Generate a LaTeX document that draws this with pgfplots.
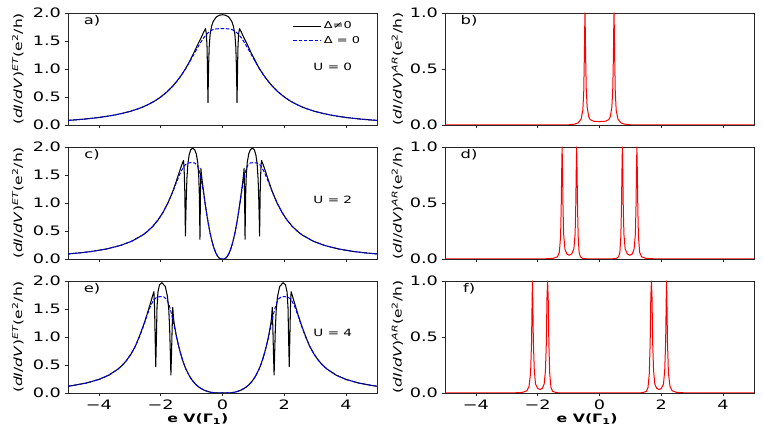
\documentclass[border=0pt]{standalone}
\usepackage{fontspec}
\setmainfont{DejaVu Sans}[FakeStretch=1.36]
\usepackage{pgfplots}
\pgfplotsset{compat=1.18}
\pgfplotsset{
  common/.style={
    scale only axis, width=309pt, height=112pt,
    xmin=-5, xmax=5, xtick={-4,-2,0,2,4},
    tick pos=left, tick align=outside, major tick length=3.5pt,
    tick style={black!85, line width=0.8pt},
    axis line style={black!85, line width=0.8pt},
    tick label style={font=\fontsize{13}{15}\selectfont},
    clip=true,
  },
  leftp/.style={common, ymin=0, ymax=2, ytick={0,0.5,1,1.5,2}, yticklabels={0.0,0.5,1.0,1.5,2.0},
    ylabel={(\textit{dI}/\textit{dV})\textsuperscript{\textit{ET}}(e\textsuperscript{2}/h)},
    ylabel style={at={(axis description cs:-0.162,0.5)}, anchor=center, font=\fontsize{11.4}{13}\selectfont}},
  rightp/.style={common, ymin=0, ymax=1, ytick={0,0.5,1}, yticklabels={0.0,0.5,1.0},
    ylabel={(\textit{dI}/\textit{dV})\textsuperscript{\textit{AR}}(e\textsuperscript{2}/h)},
    ylabel style={at={(axis description cs:-0.154,0.5)}, anchor=center, font=\fontsize{11.4}{13}\selectfont}},
  nox/.style={xticklabels={,,,,}},
  botx/.style={xticklabels={−4,−2,0,2,4}, xlabel={\bfseries e V(Γ\textsubscript{1})},
    xlabel style={at={(axis description cs:#1,-0.232)}, anchor=center, font=\fontsize{11.6}{13}\selectfont}},
  blk/.style={black, line width=1.05pt, line join=round},
  blu/.style={blue, line width=1pt, dash pattern=on 3.5pt off 1.8pt},
  rd/.style={red, line width=1pt, line join=round},
}
\newcommand{\ulab}[2]{\node[font=\fontsize{10}{12}\selectfont] at (axis cs:3.57,#1) {#2};}
\newcommand{\plab}[1]{\node[font=\fontsize{12}{14}\selectfont] at (axis description cs:0.078,0.935) {#1};}
\begin{document}
\begin{tikzpicture}
\path[use as bounding box] (0,0) rectangle (763pt,436pt);
% ---------- a)
\begin{axis}[leftp, nox, at={(68pt,311pt)}, anchor=south west,
  legend image code/.code={\draw[#1] (0pt,0pt) -- (28pt,0pt);},
  legend style={at={(axis description cs:0.727,0.94)}, anchor=north west, draw=none, fill=none,
    font=\fontsize{9.5}{11}\selectfont, row sep=2pt, inner sep=0pt},
  legend cell align=left]
\addplot[blk] coordinates {(-5,0.0822) (-4.8,0.0902) (-4.6,0.0993) (-4.4,0.1095) (-4.2,0.1212) (-4,0.1346) (-3.75,0.1543) (-3.5,0.1779) (-3.25,0.2066) (-3,0.2418) (-2.8,0.2759) (-2.6,0.3168) (-2.4,0.3662) (-2.2,0.4262) (-2,0.4996) (-1.8,0.59) (-1.6,0.7012) (-1.5,0.766) (-1.4,0.8375) (-1.3,0.9159) (-1.2,1.0012) (-1.1,1.10) (-1,1.21) (-0.9,1.32) (-0.8,1.44) (-0.7,1.55) (-0.6,1.67) (-0.55,1.72) (-0.52,1.62) (-0.5,1.38) (-0.49,1.1) (-0.48,0.75) (-0.47,0.4) (-0.46,0.75) (-0.45,1.05) (-0.43,1.4) (-0.4,1.62) (-0.35,1.77) (-0.3,1.85) (-0.2,1.93) (-0.1,1.96) (0,1.97) (0.1,1.96) (0.2,1.93) (0.3,1.85) (0.35,1.77) (0.4,1.62) (0.43,1.4) (0.45,1.05) (0.46,0.75) (0.47,0.4) (0.48,0.75) (0.49,1.1) (0.5,1.38) (0.52,1.62) (0.55,1.72) (0.6,1.67) (0.7,1.55) (0.8,1.44) (0.9,1.32) (1,1.21) (1.1,1.1) (1.2,1.0012) (1.3,0.9159) (1.4,0.8375) (1.5,0.766) (1.6,0.7012) (1.8,0.59) (2,0.4996) (2.2,0.4262) (2.4,0.3662) (2.6,0.3168) (2.8,0.2759) (3,0.2418) (3.25,0.2066) (3.5,0.1779) (3.75,0.1543) (4,0.1346) (4.2,0.1212) (4.4,0.1095) (4.6,0.0993) (4.8,0.0902) (5,0.0822)};
\addlegendentry{Δ≠0}
\addplot[blu] coordinates {(-5,0.0822) (-4.8,0.0902) (-4.6,0.0993) (-4.4,0.1095) (-4.2,0.1212) (-4,0.1346) (-3.75,0.1543) (-3.5,0.1779) (-3.25,0.2066) (-3,0.2418) (-2.8,0.2759) (-2.6,0.3168) (-2.4,0.3662) (-2.2,0.4262) (-2,0.4996) (-1.8,0.59) (-1.6,0.7012) (-1.5,0.766) (-1.4,0.8375) (-1.3,0.9159) (-1.2,1.0012) (-1.1,1.0928) (-1,1.1895) (-0.9,1.2889) (-0.8,1.3875) (-0.7,1.4808) (-0.6,1.5633) (-0.5,1.6297) (-0.4,1.6768) (-0.3,1.7045) (-0.2,1.7166) (-0.1,1.7198) (0,1.72) (0.1,1.7198) (0.2,1.7166) (0.3,1.7045) (0.4,1.6768) (0.5,1.6297) (0.6,1.5633) (0.7,1.4808) (0.8,1.3875) (0.9,1.2889) (1,1.1895) (1.1,1.0928) (1.2,1.0012) (1.3,0.9159) (1.4,0.8375) (1.5,0.766) (1.6,0.7012) (1.8,0.59) (2,0.4996) (2.2,0.4262) (2.4,0.3662) (2.6,0.3168) (2.8,0.2759) (3,0.2418) (3.25,0.2066) (3.5,0.1779) (3.75,0.1543) (4,0.1346) (4.2,0.1212) (4.4,0.1095) (4.6,0.0993) (4.8,0.0902) (5,0.0822)};
\addlegendentry{Δ = 0}
\ulab{1.04}{U = 0}
\plab{a)}
\end{axis}
% ---------- b)
\begin{axis}[rightp, nox, at={(445pt,311pt)}, anchor=south west]
\addplot[rd] coordinates {(-5,0) (-1.5,0) (-1,0.002) (-0.8,0.008) (-0.7,0.018) (-0.6,0.05) (-0.54,0.13) (-0.51,0.3) (-0.49,0.62) (-0.48,0.85) (-0.47,1) (-0.46,0.85) (-0.45,0.62) (-0.43,0.33) (-0.4,0.16) (-0.35,0.075) (-0.3,0.048) (-0.2,0.034) (0,0.03) (0.2,0.034) (0.3,0.048) (0.35,0.075) (0.4,0.16) (0.43,0.33) (0.45,0.62) (0.46,0.85) (0.47,1) (0.48,0.85) (0.49,0.62) (0.51,0.3) (0.54,0.13) (0.6,0.05) (0.7,0.018) (0.8,0.008) (1,0.002) (1.5,0) (5,0)};
\plab{b)}
\end{axis}
% ---------- c)
\begin{axis}[leftp, nox, at={(68pt,177pt)}, anchor=south west]
\addplot[blk] coordinates {(-5,0.0902) (-4.6166,0.1095) (-4.2361,0.1346) (-3.7656,0.1779) (-3.3028,0.2418) (-2.9401,0.3168) (-2.5866,0.4262) (-2.4142,0.4996) (-2.2454,0.59) (-2.0806,0.7012) (-1.9207,0.8375) (-1.7662,1.0012) (-1.7,1.085) (-1.6,1.22) (-1.5,1.38) (-1.4,1.55) (-1.3,1.71) (-1.26,1.76) (-1.24,1.58) (-1.22,1.2) (-1.21,0.8) (-1.2,0.41) (-1.19,0.7) (-1.17,1.15) (-1.15,1.45) (-1.12,1.7) (-1.08,1.86) (-1.03,1.95) (-0.97,1.98) (-0.9,1.95) (-0.85,1.88) (-0.8,1.72) (-0.77,1.5) (-0.75,1.15) (-0.74,0.8) (-0.73,0.35) (-0.72,0.85) (-0.71,1.35) (-0.7,1.62) (-0.68,1.5) (-0.65,1.36) (-0.6,1.15) (-0.5662,1.01) (-0.5207,0.8375) (-0.4806,0.7012) (-0.4454,0.59) (-0.4142,0.4996) (-0.3866,0.4262) (-0.3401,0.3168) (-0.3028,0.2418) (-0.2656,0.1779) (-0.2361,0.1346) (-0.2166,0.1095) (-0.1926,0.0822) (-0.1623,0.0534) (-0.1231,0.0255) (-0.099,0.0136) (-0.0499,0.0014) (0,0) (0.0499,0.0014) (0.099,0.0136) (0.1231,0.0255) (0.1623,0.0534) (0.1926,0.0822) (0.2166,0.1095) (0.2361,0.1346) (0.2656,0.1779) (0.3028,0.2418) (0.3401,0.3168) (0.3866,0.4262) (0.4142,0.4996) (0.4454,0.59) (0.4806,0.7012) (0.5207,0.8375) (0.5662,1.01) (0.6,1.15) (0.65,1.36) (0.68,1.5) (0.7,1.62) (0.71,1.35) (0.72,0.85) (0.73,0.35) (0.74,0.8) (0.75,1.15) (0.77,1.5) (0.8,1.72) (0.85,1.88) (0.9,1.95) (0.97,1.98) (1.03,1.95) (1.08,1.86) (1.12,1.7) (1.15,1.45) (1.17,1.15) (1.19,0.7) (1.2,0.41) (1.21,0.8) (1.22,1.2) (1.24,1.58) (1.26,1.76) (1.3,1.71) (1.4,1.55) (1.5,1.38) (1.6,1.22) (1.7,1.085) (1.7662,1.0012) (1.9207,0.8375) (2.0806,0.7012) (2.2454,0.59) (2.4142,0.4996) (2.5866,0.4262) (2.9401,0.3168) (3.3028,0.2418) (3.7656,0.1779) (4.2361,0.1346) (4.6166,0.1095) (5,0.0902)};
\addplot[blu] coordinates {(-5,0.0902) (-4.6166,0.1095) (-4.2361,0.1346) (-3.7656,0.1779) (-3.3028,0.2418) (-2.9401,0.3168) (-2.5866,0.4262) (-2.4142,0.4996) (-2.2454,0.59) (-2.0806,0.7012) (-1.9207,0.8375) (-1.7662,1.0012) (-1.618,1.1895) (-1.4771,1.3875) (-1.344,1.5633) (-1.2198,1.6768) (-1.105,1.7166) (-1,1.72) (-0.905,1.7166) (-0.8198,1.6768) (-0.744,1.5633) (-0.6771,1.3875) (-0.618,1.1895) (-0.5662,1.0012) (-0.5207,0.8375) (-0.4806,0.7012) (-0.4454,0.59) (-0.4142,0.4996) (-0.3866,0.4262) (-0.3401,0.3168) (-0.3028,0.2418) (-0.2656,0.1779) (-0.2361,0.1346) (-0.2166,0.1095) (-0.1926,0.0822) (-0.1623,0.0534) (-0.1231,0.0255) (-0.099,0.0136) (-0.0499,0.0014) (0,0) (0.0499,0.0014) (0.099,0.0136) (0.1231,0.0255) (0.1623,0.0534) (0.1926,0.0822) (0.2166,0.1095) (0.2361,0.1346) (0.2656,0.1779) (0.3028,0.2418) (0.3401,0.3168) (0.3866,0.4262) (0.4142,0.4996) (0.4454,0.59) (0.4806,0.7012) (0.5207,0.8375) (0.5662,1.0012) (0.618,1.1895) (0.6771,1.3875) (0.744,1.5633) (0.8198,1.6768) (0.905,1.7166) (1,1.72) (1.105,1.7166) (1.2198,1.6768) (1.344,1.5633) (1.4771,1.3875) (1.618,1.1895) (1.7662,1.0012) (1.9207,0.8375) (2.0806,0.7012) (2.2454,0.59) (2.4142,0.4996) (2.5866,0.4262) (2.9401,0.3168) (3.3028,0.2418) (3.7656,0.1779) (4.2361,0.1346) (4.6166,0.1095) (5,0.0902)};
\ulab{1.06}{U = 2}
\plab{c)}
\end{axis}
% ---------- d)
\begin{axis}[rightp, nox, at={(445pt,177pt)}, anchor=south west]
\addplot[rd] coordinates {(-5,0) (-2.2,0) (-1.8,0.001) (-1.5,0.006) (-1.36,0.02) (-1.3,0.06) (-1.26,0.2) (-1.24,0.45) (-1.22,0.85) (-1.21,1) (-1.2,0.85) (-1.18,0.45) (-1.16,0.22) (-1.12,0.09) (-1.06,0.045) (-0.98,0.033) (-0.9,0.045) (-0.83,0.09) (-0.79,0.22) (-0.77,0.45) (-0.75,0.85) (-0.74,1) (-0.73,0.85) (-0.71,0.45) (-0.69,0.2) (-0.66,0.06) (-0.62,0.02) (-0.55,0.006) (-0.4,0.001) (0,0) (0.4,0.001) (0.55,0.006) (0.62,0.02) (0.66,0.06) (0.69,0.2) (0.71,0.45) (0.73,0.85) (0.74,1) (0.75,0.85) (0.77,0.45) (0.79,0.22) (0.83,0.09) (0.9,0.045) (0.98,0.033) (1.06,0.045) (1.12,0.09) (1.16,0.22) (1.18,0.45) (1.2,0.85) (1.21,1) (1.22,0.85) (1.24,0.45) (1.26,0.2) (1.3,0.06) (1.36,0.02) (1.5,0.006) (1.8,0.001) (2.2,0) (5,0)};
\plab{d)}
\end{axis}
% ---------- e)
\begin{axis}[leftp, botx=0.42, at={(68pt,43pt)}, anchor=south west]
\addplot[blk] coordinates {(-5,0.1212) (-4.8284,0.1346) (-4.4075,0.1779) (-4,0.2418) (-3.6854,0.3168) (-3.3826,0.4262) (-3.2361,0.4996) (-3.0932,0.59) (-2.9541,0.7012) (-2.819,0.8375) (-2.75,0.93) (-2.65,1.07) (-2.55,1.22) (-2.45,1.39) (-2.35,1.57) (-2.27,1.72) (-2.22,1.81) (-2.2,1.55) (-2.18,1.0) (-2.16,0.47) (-2.14,0.95) (-2.12,1.52) (-2.09,1.8) (-2.04,1.93) (-1.96,1.97) (-1.85,1.9) (-1.78,1.72) (-1.74,1.5) (-1.71,1.15) (-1.69,0.75) (-1.67,0.32) (-1.65,0.7) (-1.63,1.15) (-1.61,1.53) (-1.585,1.33) (-1.56,1.23) (-1.53,1.13) (-1.4881,1.0012) (-1.419,0.8375) (-1.3541,0.7012) (-1.2932,0.59) (-1.2361,0.4996) (-1.1826,0.4262) (-1.0854,0.3168) (-1,0.2418) (-0.9075,0.1779) (-0.8284,0.1346) (-0.7732,0.1095) (-0.7016,0.0822) (-0.6056,0.0534) (-0.472,0.0255) (-0.385,0.0136) (-0.262,0.0038) (-0.198,0.0014) (-0.1,0) (0,0) (0.1,0) (0.198,0.0014) (0.262,0.0038) (0.385,0.0136) (0.472,0.0255) (0.6056,0.0534) (0.7016,0.0822) (0.7732,0.1095) (0.8284,0.1346) (0.9075,0.1779) (1,0.2418) (1.0854,0.3168) (1.1826,0.4262) (1.2361,0.4996) (1.2932,0.59) (1.3541,0.7012) (1.419,0.8375) (1.4881,1.0012) (1.53,1.13) (1.56,1.23) (1.585,1.33) (1.61,1.53) (1.63,1.15) (1.65,0.7) (1.67,0.32) (1.69,0.75) (1.71,1.15) (1.74,1.5) (1.78,1.72) (1.85,1.9) (1.96,1.97) (2.04,1.93) (2.09,1.8) (2.12,1.52) (2.14,0.95) (2.16,0.47) (2.18,1.0) (2.2,1.55) (2.22,1.81) (2.27,1.72) (2.35,1.57) (2.45,1.39) (2.55,1.22) (2.65,1.07) (2.75,0.93) (2.819,0.8375) (2.9541,0.7012) (3.0932,0.59) (3.2361,0.4996) (3.3826,0.4262) (3.6854,0.3168) (4,0.2418) (4.4075,0.1779) (4.8284,0.1346) (5,0.1212)};
\addplot[blu] coordinates {(-5,0.1212) (-4.8284,0.1346) (-4.4075,0.1779) (-4,0.2418) (-3.6854,0.3168) (-3.3826,0.4262) (-3.2361,0.4996) (-3.0932,0.59) (-2.9541,0.7012) (-2.819,0.8375) (-2.6881,1.0012) (-2.5616,1.1895) (-2.4396,1.3875) (-2.3224,1.5633) (-2.21,1.6768) (-2.1025,1.7166) (-2,1.72) (-1.9025,1.7166) (-1.81,1.6768) (-1.7224,1.5633) (-1.6396,1.3875) (-1.5616,1.1895) (-1.4881,1.0012) (-1.419,0.8375) (-1.3541,0.7012) (-1.2932,0.59) (-1.2361,0.4996) (-1.1826,0.4262) (-1.0854,0.3168) (-1,0.2418) (-0.9075,0.1779) (-0.8284,0.1346) (-0.7732,0.1095) (-0.7016,0.0822) (-0.6056,0.0534) (-0.472,0.0255) (-0.385,0.0136) (-0.262,0.0038) (-0.198,0.0014) (-0.1,0) (0,0) (0.1,0) (0.198,0.0014) (0.262,0.0038) (0.385,0.0136) (0.472,0.0255) (0.6056,0.0534) (0.7016,0.0822) (0.7732,0.1095) (0.8284,0.1346) (0.9075,0.1779) (1,0.2418) (1.0854,0.3168) (1.1826,0.4262) (1.2361,0.4996) (1.2932,0.59) (1.3541,0.7012) (1.419,0.8375) (1.4881,1.0012) (1.5616,1.1895) (1.6396,1.3875) (1.7224,1.5633) (1.81,1.6768) (1.9025,1.7166) (2,1.72) (2.1025,1.7166) (2.21,1.6768) (2.3224,1.5633) (2.4396,1.3875) (2.5616,1.1895) (2.6881,1.0012) (2.819,0.8375) (2.9541,0.7012) (3.0932,0.59) (3.2361,0.4996) (3.3826,0.4262) (3.6854,0.3168) (4,0.2418) (4.4075,0.1779) (4.8284,0.1346) (5,0.1212)};
\ulab{1.08}{U = 4}
\plab{e)}
\end{axis}
% ---------- f)
\begin{axis}[rightp, botx=0.46, at={(445pt,43pt)}, anchor=south west]
\addplot[rd] coordinates {(-5,0) (-3.2,0) (-2.8,0.001) (-2.5,0.005) (-2.35,0.02) (-2.28,0.06) (-2.23,0.18) (-2.2,0.45) (-2.18,0.85) (-2.17,1) (-2.16,0.85) (-2.14,0.45) (-2.11,0.2) (-2.07,0.08) (-2,0.04) (-1.92,0.032) (-1.85,0.042) (-1.79,0.08) (-1.75,0.2) (-1.72,0.45) (-1.7,0.85) (-1.68,1) (-1.66,0.85) (-1.64,0.45) (-1.61,0.17) (-1.57,0.05) (-1.52,0.015) (-1.4,0.003) (-1.2,0) (1.2,0) (1.4,0.003) (1.52,0.015) (1.57,0.05) (1.61,0.17) (1.64,0.45) (1.66,0.85) (1.68,1) (1.7,0.85) (1.72,0.45) (1.75,0.2) (1.79,0.08) (1.85,0.042) (1.92,0.032) (2,0.04) (2.07,0.08) (2.11,0.2) (2.14,0.45) (2.16,0.85) (2.17,1) (2.18,0.85) (2.2,0.45) (2.23,0.18) (2.28,0.06) (2.35,0.02) (2.5,0.005) (2.8,0.001) (3.2,0) (5,0)};
\plab{f)}
\end{axis}
\end{tikzpicture}
\end{document}
